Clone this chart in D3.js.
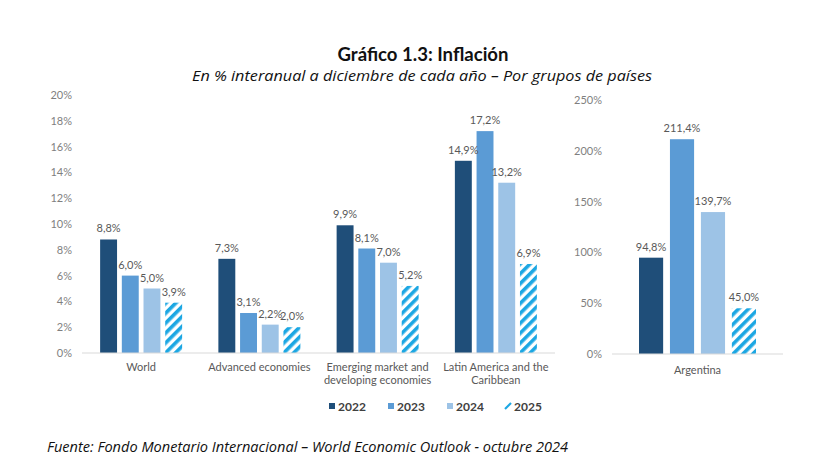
<!DOCTYPE html>
<html><head><meta charset="utf-8">
<script src="https://cdn.jsdelivr.net/npm/d3@7"></script>
<style>
body{margin:0;background:#fff;}
svg{display:block;}
</style></head>
<body>
<svg id="c" width="819" height="460"></svg>
<script>
const categories = ["World", "Advanced economies", "Emerging market and developing economies", "Latin America and the Caribbean"];
const categoryLines = [["World"], ["Advanced economies"], ["Emerging market and", "developing economies"], ["Latin America and the", "Caribbean"]];
const years = ["2022", "2023", "2024", "2025"];
const s2022 = [8.8, 7.3, 9.9, 14.9];
const s2023 = [6.0, 3.1, 8.1, 17.2];
const s2024 = [5.0, 2.2, 7.0, 13.2];
const s2025 = [3.9, 2.0, 5.2, 6.9];
const argCategory = ["Argentina"];
const argValues = [94.8, 211.4, 139.7, 45.0];
const leftTicks = [0, 2, 4, 6, 8, 10, 12, 14, 16, 18, 20];
const rightTicks = [0, 50, 100, 150, 200, 250];

const colors = ["#1F4E79", "#5B9BD5", "#9DC3E6", "url(#hatch)"];
const svg = d3.select("#c");
const font = "Lato, 'Noto Sans', sans-serif";

// hatch pattern
const defs = svg.append("defs");
const pat = defs.append("pattern").attr("id", "hatch").attr("patternUnits", "userSpaceOnUse")
  .attr("width", 7).attr("height", 7).attr("patternTransform", "rotate(45)");
pat.append("rect").attr("width", 7).attr("height", 7).attr("fill", "#fff");
pat.append("rect").attr("x", 0).attr("width", 3.6).attr("height", 7).attr("fill", "#1CA7E3");
const patL = defs.append("pattern").attr("id", "hatchL").attr("patternUnits", "userSpaceOnUse")
  .attr("width", 4).attr("height", 4).attr("patternTransform", "rotate(45)");
patL.append("rect").attr("width", 4).attr("height", 4).attr("fill", "#fff");
patL.append("rect").attr("width", 2.2).attr("height", 4).attr("fill", "#1CA7E3");

const fmt = v => d3.format(".1f")(v).replace(".", ",") + "%";

// Title
svg.append("text").attr("x", 423).attr("y", 61).attr("text-anchor", "middle")
  .attr("font-family", "Lato, Inter, sans-serif").attr("font-weight", "bold").attr("font-size", 18)
  .attr("fill", "#111").attr("textLength", 171).attr("lengthAdjust", "spacingAndGlyphs")
  .text("Gráfico 1.3: Inflación");
svg.append("text").attr("x", 422).attr("y", 81).attr("text-anchor", "middle")
  .attr("font-family", "'Open Sans', sans-serif").attr("font-style", "italic").attr("font-size", 14)
  .attr("fill", "#111").attr("textLength", 460).attr("lengthAdjust", "spacingAndGlyphs")
  .text("En % interanual a diciembre de cada año – Por grupos de países");

// Left chart
const yL = d3.scaleLinear().domain([0, 20]).range([353, 95]);
const xL = d3.scaleBand().domain(categories).range([82, 555]);
const xLi = d3.scaleBand().domain(years).range([0, 82]).paddingInner(0.22);
const offL = (xL.bandwidth() - 82) / 2;

const gL = svg.append("g");
const axL = gL.append("g").attr("transform", "translate(72,0)")
  .call(d3.axisLeft(yL).tickValues(leftTicks).tickSize(0).tickPadding(0).tickFormat(d => d + "%"));
axL.select(".domain").remove();
axL.selectAll("text").attr("font-family", font).attr("font-size", 11).attr("fill", "#7F7F7F");

const seriesL = [s2022, s2023, s2024, s2025];
const rowsL = categories.map((c, i) => ({c, vals: seriesL.map((s, j) => ({y: years[j], v: s[i], j}))}));
const grp = gL.selectAll("g.grp").data(rowsL).join("g").attr("class", "grp")
  .attr("transform", d => `translate(${xL(d.c) + offL},0)`);
grp.selectAll("rect").data(d => d.vals).join("rect")
  .attr("x", d => xLi(d.y)).attr("width", xLi.bandwidth())
  .attr("y", d => yL(d.v)).attr("height", d => yL(0) - yL(d.v))
  .attr("fill", d => colors[d.j]);
grp.selectAll("text.val").data(d => d.vals).join("text").attr("class", "val")
  .attr("x", d => xLi(d.y) + xLi.bandwidth() / 2).attr("y", d => yL(d.v) - 7)
  .attr("text-anchor", "middle").attr("font-family", font).attr("font-size", 11).attr("fill", "#595959")
  .text(d => fmt(d.v));
gL.append("line").attr("x1", 82).attr("x2", 555).attr("y1", yL(0)).attr("y2", yL(0))
  .attr("stroke", "#D9D9D9").attr("stroke-width", 1.2);
categories.forEach((c, i) => {
  const t = gL.append("text").attr("x", xL(c) + xL.bandwidth() / 2).attr("y", 371)
    .attr("text-anchor", "middle").attr("font-family", font).attr("font-size", 11).attr("fill", "#595959");
  categoryLines[i].forEach((ln, k) => t.append("tspan").attr("x", xL(c) + xL.bandwidth() / 2).attr("dy", k ? 12.5 : 0).text(ln));
});

// Right chart
const yR = d3.scaleLinear().domain([0, 250]).range([354, 100]);
const xR = d3.scaleBand().domain(argCategory).range([612, 783]);
const xRi = d3.scaleBand().domain(years).range([0, 117]).paddingInner(0.22);
const offR = (xR.bandwidth() - 117) / 2;
const gR = svg.append("g");
const axR = gR.append("g").attr("transform", "translate(602,0)")
  .call(d3.axisLeft(yR).tickValues(rightTicks).tickSize(0).tickPadding(0).tickFormat(d => d + "%"));
axR.select(".domain").remove();
axR.selectAll("text").attr("font-family", font).attr("font-size", 11).attr("fill", "#7F7F7F");
const valsR = argValues.map((v, j) => ({y: years[j], v, j}));
const gr = gR.append("g").attr("transform", `translate(${xR("Argentina") + offR},0)`);
gr.selectAll("rect").data(valsR).join("rect")
  .attr("x", d => xRi(d.y)).attr("width", xRi.bandwidth())
  .attr("y", d => yR(d.v)).attr("height", d => yR(0) - yR(d.v))
  .attr("fill", d => colors[d.j]);
gr.selectAll("text").data(valsR).join("text")
  .attr("x", d => xRi(d.y) + xRi.bandwidth() / 2).attr("y", d => yR(d.v) - 7)
  .attr("text-anchor", "middle").attr("font-family", font).attr("font-size", 11).attr("fill", "#595959")
  .text(d => fmt(d.v));
gR.append("line").attr("x1", 612).attr("x2", 783).attr("y1", yR(0)).attr("y2", yR(0))
  .attr("stroke", "#D9D9D9").attr("stroke-width", 1.2);
gR.append("text").attr("x", xR("Argentina") + xR.bandwidth() / 2).attr("y", 374)
  .attr("text-anchor", "middle").attr("font-family", font).attr("font-size", 11).attr("fill", "#595959")
  .text("Argentina");

// Legend
const legX = [329, 388, 447, 505];
const leg = svg.append("g");
years.forEach((y, j) => {
  if (j < 3) {
    leg.append("rect").attr("x", legX[j]).attr("y", 403).attr("width", 6).attr("height", 6).attr("fill", colors[j]);
  } else {
    leg.append("line").attr("x1", legX[j]).attr("y1", 409).attr("x2", legX[j] + 6).attr("y2", 403)
      .attr("stroke", "#1CA7E3").attr("stroke-width", 2.2);
  }
  leg.append("text").attr("x", legX[j] + 9).attr("y", 410.5).attr("font-family", "Lato, Inter, sans-serif")
    .attr("font-weight", "bold").attr("font-size", 12).attr("fill", "#404040").text(y);
});

// Footer
svg.append("text").attr("x", 47).attr("y", 452)
  .attr("font-family", "'Open Sans', sans-serif").attr("font-style", "italic").attr("font-size", 14)
  .attr("fill", "#111").attr("textLength", 521).attr("lengthAdjust", "spacingAndGlyphs")
  .text("Fuente: Fondo Monetario Internacional – World Economic Outlook - octubre 2024");
</script>
</body></html>
